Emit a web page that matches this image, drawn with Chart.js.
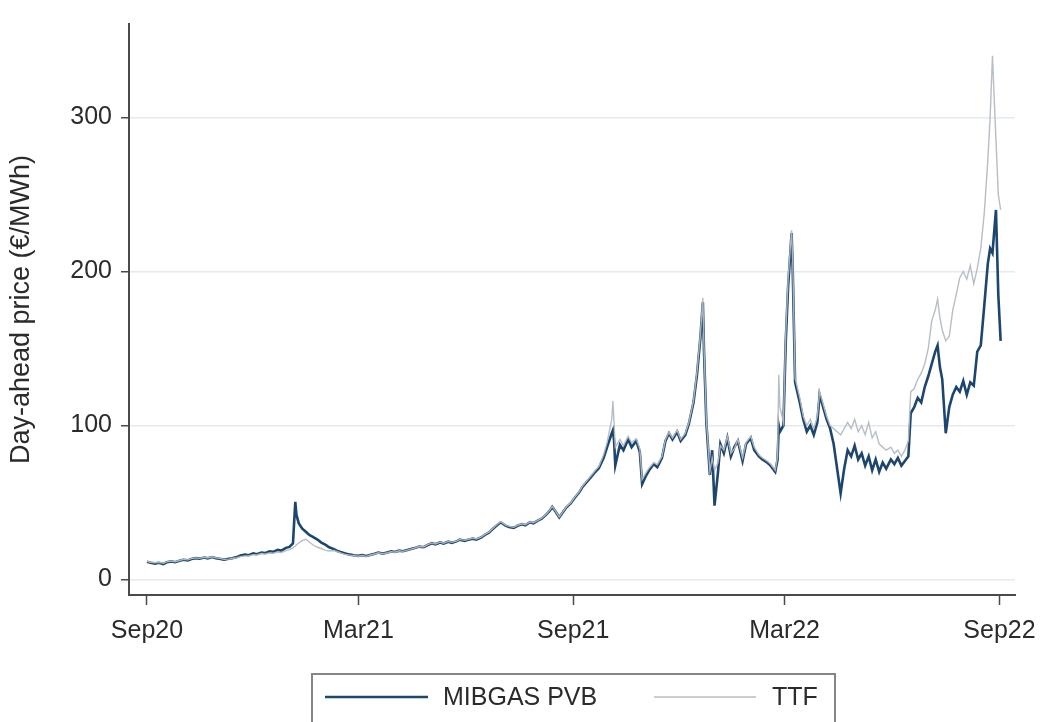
<!DOCTYPE html>
<html>
<head>
<meta charset="utf-8">
<script src="https://cdn.jsdelivr.net/npm/chart.js@4/dist/chart.umd.min.js"></script>
<style>
  html, body { margin: 0; padding: 0; background: #ffffff; }
  #wrap { width: 1049px; height: 722px; }
</style>
</head>
<body>
<div id="wrap"><canvas id="c" width="1049" height="722"></canvas></div>
<script>
// Observation dates (grouped by month)
const dates = [
  '2020-09-01','2020-09-04','2020-09-08','2020-09-11','2020-09-15','2020-09-18','2020-09-22','2020-09-25','2020-09-29',
  '2020-10-02','2020-10-06','2020-10-09','2020-10-13','2020-10-16','2020-10-20','2020-10-23','2020-10-27','2020-10-30',
  '2020-11-03','2020-11-06','2020-11-10','2020-11-13','2020-11-17','2020-11-20','2020-11-24','2020-11-27',
  '2020-12-01','2020-12-04','2020-12-08','2020-12-11','2020-12-15','2020-12-18','2020-12-22','2020-12-25','2020-12-29',
  '2021-01-01','2021-01-04','2021-01-06','2021-01-07','2021-01-09','2021-01-12','2021-01-15','2021-01-18','2021-01-21','2021-01-25','2021-01-28',
  '2021-02-01','2021-02-04','2021-02-08','2021-02-11','2021-02-15','2021-02-18','2021-02-22','2021-02-25',
  '2021-03-01','2021-03-04','2021-03-08','2021-03-11','2021-03-15','2021-03-18','2021-03-22','2021-03-25','2021-03-29',
  '2021-04-01','2021-04-05','2021-04-08','2021-04-12','2021-04-15','2021-04-19','2021-04-22','2021-04-26','2021-04-29',
  '2021-05-03','2021-05-06','2021-05-10','2021-05-13','2021-05-17','2021-05-20','2021-05-24','2021-05-27','2021-05-31',
  '2021-06-03','2021-06-07','2021-06-10','2021-06-14','2021-06-17','2021-06-21','2021-06-24','2021-06-28',
  '2021-07-01','2021-07-05','2021-07-08','2021-07-12','2021-07-15','2021-07-19','2021-07-22','2021-07-26','2021-07-29',
  '2021-08-02','2021-08-05','2021-08-09','2021-08-12','2021-08-14','2021-08-17','2021-08-20','2021-08-23','2021-08-26','2021-08-30',
  '2021-09-02','2021-09-06','2021-09-09','2021-09-13','2021-09-16','2021-09-20','2021-09-23','2021-09-27','2021-09-30',
  '2021-10-04','2021-10-05','2021-10-06','2021-10-07','2021-10-11','2021-10-14','2021-10-18','2021-10-21','2021-10-25','2021-10-28','2021-10-30',
  '2021-11-02','2021-11-05','2021-11-09','2021-11-12','2021-11-16','2021-11-19','2021-11-22','2021-11-25','2021-11-29',
  '2021-12-02','2021-12-06','2021-12-09','2021-12-13','2021-12-16','2021-12-19','2021-12-21','2021-12-22','2021-12-24','2021-12-27','2021-12-29','2021-12-31',
  '2022-01-03','2022-01-05','2022-01-08','2022-01-11','2022-01-14','2022-01-17','2022-01-20','2022-01-24','2022-01-27','2022-01-31',
  '2022-02-03','2022-02-07','2022-02-10','2022-02-14','2022-02-17','2022-02-21','2022-02-23','2022-02-24','2022-02-25','2022-02-28',
  '2022-03-02','2022-03-04','2022-03-07','2022-03-08','2022-03-10','2022-03-14','2022-03-17','2022-03-20','2022-03-23','2022-03-26','2022-03-29','2022-03-31',
  '2022-04-03','2022-04-06','2022-04-09','2022-04-12','2022-04-15','2022-04-18','2022-04-21','2022-04-24','2022-04-27','2022-04-30',
  '2022-05-03','2022-05-06','2022-05-09','2022-05-12','2022-05-15','2022-05-18','2022-05-21','2022-05-24','2022-05-27','2022-05-31',
  '2022-06-03','2022-06-06','2022-06-09','2022-06-12','2022-06-15','2022-06-17','2022-06-20','2022-06-23','2022-06-26','2022-06-29',
  '2022-07-02','2022-07-05','2022-07-08','2022-07-10','2022-07-12','2022-07-14','2022-07-17','2022-07-20','2022-07-23','2022-07-26','2022-07-29',
  '2022-08-01','2022-08-04','2022-08-07','2022-08-10','2022-08-13','2022-08-16','2022-08-19','2022-08-22','2022-08-24','2022-08-26','2022-08-29','2022-08-31',
  '2022-09-02'
];

// MIBGAS PVB day-ahead price, €/MWh
const mibgas = [
  11.6, 11.0, 10.4, 10.9, 10.1, 11.2, 11.8, 11.3, 12.2,
  12.9, 12.5, 13.4, 13.9, 13.6, 14.3, 13.8, 14.6, 13.9,
  13.4, 12.9, 13.5, 13.9, 14.6, 15.6, 16.3, 15.8,
  17.0, 16.5, 17.6, 17.2, 18.4, 18.0, 19.3, 18.8, 20.6,
  21.2, 23.5, 50.5, 42.0, 36.5, 33.0, 31.0, 29.0, 27.8, 26.0, 24.2,
  22.5, 21.0, 19.8, 18.6, 17.6, 16.9, 16.2, 15.8,
  15.4, 15.9, 15.3, 16.0, 16.8, 17.6, 16.9, 17.5, 18.3,
  17.9, 18.8, 18.4, 19.2, 19.9, 20.6, 21.4, 21.0, 22.3,
  23.6, 22.9, 24.1, 23.4, 24.6, 23.9, 24.8, 25.9, 25.2,
  25.9, 26.6, 26.0, 27.3, 28.9, 30.6, 32.8, 35.4,
  37.2, 35.0, 34.2, 33.6, 34.8, 36.0, 35.3, 37.3, 36.6,
  38.4, 39.6, 42.3, 44.8, 47.2, 44.0, 40.4, 43.5, 46.8, 49.6,
  52.8, 56.5, 60.2, 63.8, 66.4, 70.0, 72.5, 79.0, 86.0,
  95, 97, 90, 74, 87.5, 84, 91, 86, 90, 83, 62,
  67, 71, 75, 73, 79, 90, 95, 91, 96,
  90, 94, 101, 115, 133, 158, 180, 148, 102, 68, 84, 48,
  70, 88, 82, 92, 80, 86, 90, 77, 88, 92,
  84, 80, 78, 76, 74, 70, 78, 100, 96, 100,
  155, 190, 225, 200, 128, 115, 104, 96, 100, 94, 102, 120,
  112, 104, 98, 88, 72, 56, 72, 84, 80, 87,
  78, 82, 74, 80, 71, 78, 70, 76, 72, 78,
  75, 79, 74, 77, 80, 108, 112, 118, 115, 125,
  132, 140, 148, 152, 138, 130, 95, 112, 120, 125, 122,
  129, 120, 128, 126, 148, 152, 178, 205, 215, 212, 240, 185,
  155
];

// TTF day-ahead price, €/MWh
const ttf = [
  11.9, 11.3, 10.9, 11.2, 10.6, 11.5, 12.1, 11.6, 12.4,
  13.1, 12.8, 13.6, 14.1, 13.8, 14.5, 14.0, 14.8, 14.1,
  13.6, 13.1, 13.3, 13.7, 14.2, 14.9, 15.4, 15.3,
  16.2, 16.0, 16.9, 16.6, 17.3, 17.1, 17.9, 17.6, 18.8,
  19.4, 20.6, 21.8, 22.6, 23.8, 25.5, 26.2, 24.4, 22.6, 21.0, 20.2,
  19.0, 18.6, 18.9, 18.2, 17.0, 16.4, 15.9, 15.6,
  15.2, 15.6, 15.1, 15.8, 16.6, 17.4, 16.8, 17.3, 18.1,
  17.8, 18.7, 18.3, 19.1, 19.8, 20.7, 21.5, 21.2, 22.5,
  23.8, 23.1, 24.3, 23.6, 24.8, 24.2, 25.0, 26.1, 25.5,
  26.2, 26.9, 26.4, 27.6, 29.2, 31.0, 33.2, 35.9,
  37.6, 35.3, 34.6, 33.9, 35.0, 36.2, 35.6, 37.5, 36.9,
  38.6, 39.9, 42.6, 45.1, 47.5, 44.3, 40.7, 43.8, 47.1, 49.9,
  53.2, 57.0, 60.8, 64.5, 67.2, 71.0, 73.5, 81.0, 89.0,
  104, 116, 101, 86, 91, 87, 93, 89, 91.5, 85, 65,
  69, 72.5, 76, 74.5, 80, 91, 95.5, 92, 97,
  91, 95, 102, 116, 135, 160, 183, 150, 104, 70, 79, 71,
  76, 87, 84, 93, 82, 85, 91, 79, 89, 93,
  86, 81, 79, 77, 75, 71, 80, 133, 112, 102,
  160, 195, 227, 205, 131, 118, 106, 100, 104, 98, 106, 122,
  114, 106, 100, 98, 96, 94, 98, 102, 98, 104,
  96, 100, 94, 102, 92, 96, 88, 86, 84, 86,
  82, 84, 80, 84, 90, 122, 124, 130, 134, 140,
  150, 168, 175, 182, 170, 162, 155, 158, 175, 185, 196,
  200, 195, 204, 192, 202, 215, 238, 272, 300, 340, 285, 250,
  240
];

const seriesNames = ['MIBGAS PVB', 'TTF'];
const tickDates = ['2020-09-01', '2021-03-01', '2021-09-01', '2022-03-01', '2022-09-01'];
const tickLabels = ['Sep20', 'Mar21', 'Sep21', 'Mar22', 'Sep22'];
const yTicks = [0, 100, 200, 300];

// x values are days counted from the first observation
const ORIGIN = Date.parse(dates[0]);
const dayOf = s => Math.round((Date.parse(s) - ORIGIN) / 86400000);
const tickDays = tickDates.map(dayOf);
const toPoints = vals => dates.map((d, i) => ({ x: dayOf(d), y: vals[i] }));

const FONT = '"Liberation Sans", Arial, Helvetica, sans-serif';
const TEXT = '#2b2b2b';
const AXIS = '#4a4a4a';

// Boxed legend below the plot, one line sample + label per series
const boxedLegend = {
  id: 'boxedLegend',
  afterDraw(chart, args, opts) {
    const ctx = chart.ctx;
    ctx.save();
    ctx.fillStyle = '#ffffff';
    ctx.fillRect(opts.box.x, opts.box.y, opts.box.w, opts.box.h);
    ctx.strokeStyle = opts.box.color;
    ctx.lineWidth = opts.box.lineWidth;
    ctx.strokeRect(opts.box.x, opts.box.y, opts.box.w, opts.box.h);
    ctx.font = opts.font;
    ctx.fillStyle = TEXT;
    ctx.textBaseline = 'middle';
    ctx.textAlign = 'left';
    opts.items.forEach((it, i) => {
      const ds = chart.data.datasets[i];
      ctx.beginPath();
      ctx.strokeStyle = ds.borderColor;
      ctx.lineWidth = ds.borderWidth;
      ctx.moveTo(it.from, opts.y);
      ctx.lineTo(it.to, opts.y);
      ctx.stroke();
      ctx.fillText(ds.label, it.text, opts.y + 1);
    });
    ctx.restore();
  }
};

new Chart(document.getElementById('c'), {
  type: 'line',
  data: {
    datasets: [
      {
        label: seriesNames[0],
        data: toPoints(mibgas),
        borderColor: '#1d466e',
        borderWidth: 2.6,
        pointRadius: 0,
        tension: 0,
        order: 1
      },
      {
        label: seriesNames[1],
        data: toPoints(ttf),
        borderColor: 'rgba(178,186,195,0.95)',
        borderWidth: 1.4,
        pointRadius: 0,
        tension: 0,
        order: 0
      }
    ]
  },
  options: {
    responsive: false,
    animation: false,
    devicePixelRatio: 1,
    layout: { padding: { top: 13, right: 34, left: 0, bottom: 0 } },
    plugins: {
      legend: { display: false },
      tooltip: { enabled: false },
      boxedLegend: {
        box: { x: 312, y: 674, w: 523, h: 70, color: '#858585', lineWidth: 2 },
        y: 697,
        font: '25px ' + FONT,
        items: [
          { from: 325, to: 428, text: 443 },
          { from: 654, to: 756, text: 772 }
        ]
      }
    },
    scales: {
      x: {
        type: 'linear',
        min: -15.4,
        max: 743.3,
        afterBuildTicks: s => { s.ticks = tickDays.map(v => ({ value: v })); },
        afterFit: s => { s.height = 127; },
        ticks: {
          autoSkip: false,
          maxRotation: 0,
          padding: 11,
          color: TEXT,
          font: { family: FONT, size: 25 },
          callback: v => tickLabels[tickDays.indexOf(v)]
        },
        grid: {
          drawOnChartArea: false,
          drawTicks: true,
          tickLength: 10,
          tickColor: AXIS,
          tickWidth: 1.5
        },
        border: { color: AXIS, width: 2 }
      },
      y: {
        type: 'linear',
        min: -10,
        max: 360.7,
        afterBuildTicks: s => { s.ticks = yTicks.map(v => ({ value: v })); },
        afterFit: s => { s.width = 129; },
        ticks: {
          padding: 9,
          color: TEXT,
          font: { family: FONT, size: 25 }
        },
        grid: {
          color: '#e6eaee',
          lineWidth: 1.5,
          drawTicks: true,
          tickLength: 8,
          tickColor: AXIS,
          tickWidth: 1.5
        },
        border: { color: AXIS, width: 2 },
        title: {
          display: true,
          text: 'Day-ahead price (€/MWh)',
          color: TEXT,
          font: { family: FONT, size: 27 },
          padding: { top: 5, bottom: 0 }
        }
      }
    }
  },
  plugins: [boxedLegend]
});
</script>
</body>
</html>
